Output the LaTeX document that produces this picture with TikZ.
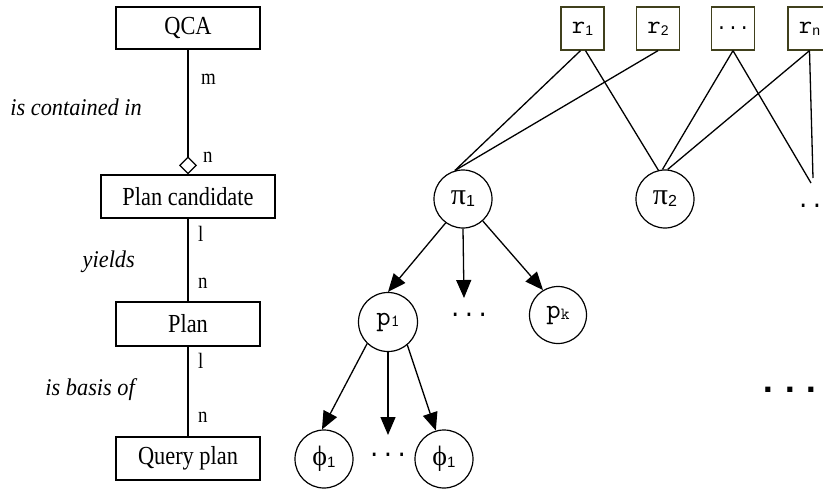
\documentclass[tikz,border=0pt]{standalone}
\usepackage{fontspec}
\usepackage{graphicx}
\setmainfont{Liberation Serif}
\newfontfamily\monofont{Liberation Mono}
\newfontfamily\subfont{Liberation Sans}
\usetikzlibrary{arrows.meta}
\definecolor{boxolive}{RGB}{64,64,28}
% narrow (condensed) setting of the entity and role texts
\newcommand\narrow[1]{\scalebox{0.86}[1]{#1}}
% subscripts set in a small sans or mono face
\newcommand\sansidx[2]{\raisebox{-2pt}{\subfont\fontsize{#1}{#1}\selectfont #2}}
\newcommand\monoidx[2]{\raisebox{-1.5pt}{\ttfamily\fontsize{#1}{#1}\selectfont #2}}
\begin{document}
\begin{tikzpicture}[x=1pt,y=-1pt,
  entity/.style={draw, line width=1.2pt, minimum width=144pt, minimum height=42pt,
    inner sep=0pt, font=\fontsize{26}{28}\selectfont},
  relbox/.style={draw=boxolive, line width=1.3pt, minimum width=43pt, minimum height=43pt,
    inner sep=0pt, font=\ttfamily\fontsize{26}{26}\selectfont},
  state/.style={circle, draw, line width=1.2pt, minimum size=58pt, inner sep=0pt},
  card/.style={font=\fontsize{22}{24}\selectfont, inner sep=0pt, anchor=west},
  role/.style={font=\itshape\fontsize{24}{26}\selectfont, inner sep=0pt, anchor=east},
  link/.style={line width=1.3pt},
  arr/.style={link, -{Triangle[length=18pt,width=15pt]}},
  dotrow/.style={font=\monofont\fontsize{23}{24}\selectfont, inner sep=0pt}]
\useasboundingbox (0,0) rectangle (823,491);

% ---- entity chain ----
\node[entity] (qca)  at (188,28)  {\narrow{QCA}};
\node[entity, minimum width=174pt, minimum height=43pt] (cand) at (188,196.5) {\narrow{Plan candidate}};
\node[entity, minimum height=44pt] (plan) at (188,324) {\narrow{Plan}};
\node[entity, minimum height=43pt] (query) at (188,458.5) {\narrow{Query plan}};

\draw[link, -{Diamond[open,length=18pt,width=18pt,line width=1.2pt]}] (qca) -- (cand);
\draw[link] (cand) -- (plan);
\draw[link] (plan) -- (query);

\node[card] (m1) at (201,79) {\narrow{m}};
\node[card] (n1) at (203,157) {\narrow{n}};
\node[card] (l1) at (198,234) {\narrow{l}};
\node[card] (n2) at (198,283) {\narrow{n}};
\node[card] (l2) at (198,361) {\narrow{l}};
\node[card] (n3) at (198,417) {\narrow{n}};

\node[role] (contained) at (142,107) {\scalebox{0.93}[1]{is contained in}};
\node[role] (yields)    at (135,262) {\scalebox{0.93}[1]{yields}};
\node[role] (basis)     at (135,390) {\scalebox{0.93}[1]{is basis of}};

% ---- resources ----
\node[relbox] (r1) at (582.5,28.5) {r\sansidx{14}{1}};
\node[relbox] (r2) at (658,28.5)   {r\sansidx{14}{2}};
\node[relbox, font=\monofont\fontsize{19}{20}\selectfont] (rd) at (733,28.5) {...};
\node[relbox] (rn) at (809.5,28.5) {r\sansidx{14}{n}};

% ---- plan candidates ----
\node[state] (pi1) at (463,199) {\raisebox{-4pt}{\fontsize{30}{30}\selectfont π\sansidx{16}{1}}};
\node[state] (pi2) at (665,199) {\raisebox{-4pt}{\fontsize{30}{30}\selectfont π\sansidx{16}{2}}};
\node[dotrow, anchor=base] (pid) at (817,207) {...};
\coordinate (pi3a) at (811,183);
\coordinate (pi3b) at (813,178);

\draw[link] ([xshift=-2pt]r1.south) -- (pi1.106);
\draw[link] (r2.south) -- (pi1.106);
\draw[link] ([xshift=3pt]r1.south) -- (pi2.103);
\draw[link] (rd.south) -- (pi2.95);
\draw[link] (rn.south) -- (pi2.85);
\draw[link] (rd.south) -- (pi3a);
\draw[link] (rn.south) -- (pi3b);

% ---- plans ----
\node[state, minimum size=59pt] (p1) at (388,322) {\ttfamily\fontsize{28}{28}\selectfont p\monoidx{17}{1}};
\node[state, minimum size=57pt] (pk) at (558,315) {\ttfamily\fontsize{28}{28}\selectfont p\monoidx{17}{k}};
\node[dotrow] (pd) at (469,315) {...};
\coordinate (pmid) at (464,298);

\draw[arr] (pi1.234) -- (p1.north);
\draw[arr] (pi1.south) -- (pmid);
\draw[arr] (pi1.312) -- (pk.121);

% ---- query plans ----
\node[state] (f1) at (324,459) {\fontsize{28}{28}\selectfont ϕ\sansidx{15}{1}};
\node[state] (f2) at (444,459) {\fontsize{28}{28}\selectfont ϕ\sansidx{15}{1}};
\node[dotrow] (fd) at (388,455) {...};
\coordinate (fmid) at (388,435);

\draw[arr] (p1.226) -- (f1.94);
\draw[arr] (p1.south) -- (fmid);
\draw[arr] (p1.310) -- (f2.106);

% ---- further plans ----
\node[font=\monofont\bfseries\fontsize{36}{36}\selectfont, inner sep=0pt, anchor=base] (more) at (790,392) {...};
\end{tikzpicture}
\end{document}
